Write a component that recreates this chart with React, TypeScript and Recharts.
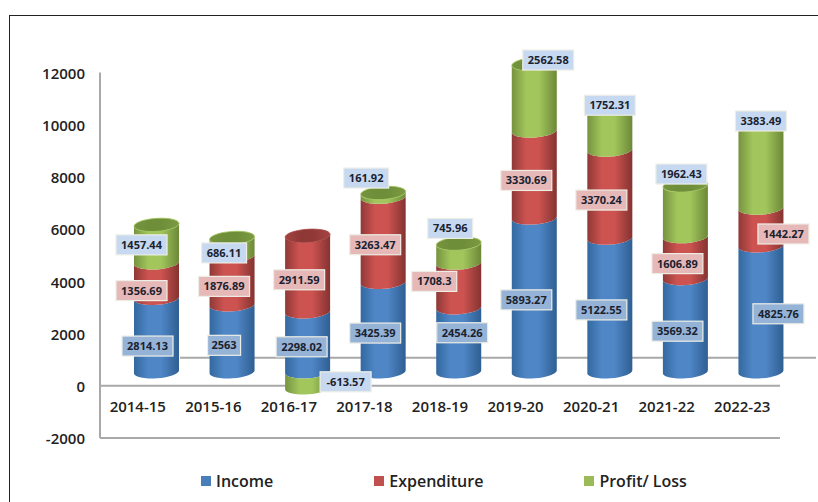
import { BarChart, Bar, XAxis, YAxis, Legend, LabelList, ReferenceLine } from "recharts";

const years = ["2014-15", "2015-16", "2016-17", "2017-18", "2018-19", "2019-20", "2020-21", "2021-22", "2022-23"];
const income = [2814.13, 2563, 2298.02, 3425.39, 2454.26, 5893.27, 5122.55, 3569.32, 4825.76];
const expenditure = [1356.69, 1876.89, 2911.59, 3263.47, 1708.3, 3330.69, 3370.24, 1606.89, 1442.27];
const profit = [1457.44, 686.11, -613.57, 161.92, 745.96, 2562.58, 1752.31, 1962.43, 3383.49];
const yTicks = [-2000, 0, 2000, 4000, 6000, 8000, 10000, 12000];

const data = years.map((year, i) => ({
  year,
  income: income[i],
  expenditure: expenditure[i],
  profit: profit[i],
}));

// hand-placed labels in the original, offset from the middle of each segment
const incomeNudge = [[-9, 13], [-8, 9], [-6, 7], [-8, 8], [3.5, -5], [-8, 7], [-8.5, 7], [-8, 8], [17.5, 7]];
const expenditureNudge = [[-15, 12], [-8, 8], [-8.5, 8], [-8, 7], [-24.5, -2], [-8, 8], [-8.5, 8], [-8, 8], [22.5, 9]];
const profitNudge = [[-15, 3], [-8, 8], [38, 4], [-17, -15], [-8.5, -23], [14, -35.5], [0, -20], [-4, -35], [0, -41]];

const FONT = "'Open Sans', sans-serif";
const DEPTH_X = 19;
const DEPTH_Y = 14;
const LABEL_Y = 16;
const RY = 6.5;
const TILT_DEG = -4;
const TILT = 1.6;

function Cylinder(props: any) {
  const { x, y, width, height, gradient, cap, capEdge, index, showCap } = props;
  const x0 = x + DEPTH_X;
  const x1 = x0 + width;
  const rx = width / 2;
  const top = Math.min(y, y + height) - DEPTH_Y;
  const bottom = Math.max(y, y + height) - DEPTH_Y;
  const d = [
    `M${x0},${top + TILT}`,
    `A${rx},${RY} ${TILT_DEG} 0 0 ${x1},${top - TILT}`,
    `L${x1},${bottom - TILT}`,
    `A${rx},${RY} ${TILT_DEG} 0 1 ${x0},${bottom + TILT}`,
    "Z",
  ].join(" ");
  return (
    <g>
      <path d={d} fill={`url(#${gradient})`} />
      {showCap && showCap(index) && (
        <ellipse
          cx={x0 + rx}
          cy={top}
          rx={rx}
          ry={RY}
          fill={`url(#${cap})`}
          stroke={capEdge}
          strokeWidth={0.8}
          transform={`rotate(${TILT_DEG} ${x0 + rx} ${top})`}
        />
      )}
    </g>
  );
}

function ValueLabel(props: any) {
  const { x, y, width, height, value, index, boxFill, nudge } = props;
  const text = String(value);
  const boxW = text.length * 6 + 9;
  const boxH = 20;
  const cx = x + width / 2 + DEPTH_X + nudge[index][0];
  const cy = Math.min(y, y + height) + Math.abs(height) / 2 - LABEL_Y + nudge[index][1];
  return (
    <g>
      <rect x={cx - boxW / 2} y={cy - boxH / 2} width={boxW} height={boxH} fill={boxFill} stroke="#eeeee6" strokeWidth={1.2} />
      <text x={cx} y={cy + 4} textAnchor="middle" fontFamily={FONT} fontSize={11} fontWeight={700} fill="#1a2230">
        {text}
      </text>
    </g>
  );
}

function YearTick(props: any) {
  const { x, y, payload } = props;
  return (
    <text x={x} y={y - 34} textAnchor="middle" fontFamily={FONT} fontSize={15} fontWeight={600} fill="#222">
      {payload.value}
    </text>
  );
}

function BackWall(props: any) {
  const { x1, x2, y1 } = props;
  return <line x1={x1 + 80} x2={x2 + 36} y1={y1} y2={y1} stroke="#a9a9a9" strokeWidth={2} />;
}

function LegendRow(props: any) {
  return (
    <div style={{ display: "flex", gap: 101, fontFamily: FONT, fontSize: 16, fontWeight: 600, color: "#222", whiteSpace: "nowrap" }}>
      {props.payload.map((item: any) => (
        <div key={item.value} style={{ display: "flex", alignItems: "center", gap: 5 }}>
          <span style={{ width: 10, height: 10, background: item.color, display: "inline-block" }} />
          {item.value}
        </div>
      ))}
    </div>
  );
}

function Gradient({ id, edge, mid, far }: { id: string; edge: string; mid: string; far: string }) {
  return (
    <linearGradient id={id} x1="0" y1="0" x2="1" y2="0">
      <stop offset="0%" stopColor={edge} />
      <stop offset="32%" stopColor={mid} />
      <stop offset="60%" stopColor={mid} />
      <stop offset="100%" stopColor={far} />
    </linearGradient>
  );
}

export default function App() {
  return (
    <div style={{ position: "absolute", left: 0, top: 0, width: 818, height: 502, overflow: "hidden", background: "#fff" }}>
      <div style={{ position: "absolute", left: 9, top: 15, width: 900, height: 600, border: "1.5px solid #222" }} />
      <div style={{ position: "absolute", left: 0, top: 0 }}>
        <BarChart
          width={818}
          height={502}
          data={data}
          stackOffset="sign"
          barSize={45}
          margin={{ top: 72.5, right: 38, bottom: 34, left: 0 }}
        >
          <defs>
            <Gradient id="blueBody" edge="#33699f" mid="#4f86c6" far="#2f5f92" />
            <Gradient id="redBody" edge="#8f3937" mid="#cd5350" far="#843331" />
            <Gradient id="greenBody" edge="#76933f" mid="#a2c65c" far="#6c8838" />
            <Gradient id="greenCap" edge="#76943f" mid="#6f8e3a" far="#7c9a42" />
            <Gradient id="redCap" edge="#a54442" mid="#8f3836" far="#a54442" />
          </defs>
          <XAxis
            dataKey="year"
            interval={0}
            height={30}
            axisLine={{ stroke: "#a9a9a9", strokeWidth: 2 }}
            tickLine={false}
            tick={<YearTick />}
          />
          <YAxis
            width={100}
            domain={[-2000, 12000]}
            ticks={yTicks}
            interval={0}
            axisLine={{ stroke: "#a9a9a9", strokeWidth: 2 }}
            tickLine={false}
            tickSize={0}
            tickMargin={15}
            tick={{ fontFamily: FONT, fontSize: 15, fontWeight: 600, fill: "#222", dy: 1 }}
          />
          <ReferenceLine y={1073} ifOverflow="visible" shape={<BackWall />} zIndex={50} />
          <ReferenceLine y={0} stroke="#a9a9a9" strokeWidth={2} zIndex={50} />
          <Legend
            layout="horizontal"
            verticalAlign="middle"
            align="center"
            itemSorter={null}
            wrapperStyle={{ left: 201, top: 470, width: 540, height: 24, bottom: "auto", right: "auto" }}
            content={<LegendRow />}
          />
          <Bar
            dataKey="income"
            name="Income"
            stackId="a"
            fill="#4a7ebb"
            isAnimationActive={false}
            shape={<Cylinder gradient="blueBody" />}
          >
            <LabelList dataKey="income" content={<ValueLabel boxFill="#95b3d7" nudge={incomeNudge} />} />
          </Bar>
          <Bar
            dataKey="expenditure"
            name="Expenditure"
            stackId="a"
            fill="#c0504d"
            isAnimationActive={false}
            shape={
              <Cylinder
                gradient="redBody"
                cap="redCap"
                capEdge="#a54442"
                showCap={(i: number) => profit[i] < 0}
              />
            }
          >
            <LabelList dataKey="expenditure" content={<ValueLabel boxFill="#e6b8b7" nudge={expenditureNudge} />} />
          </Bar>
          <Bar
            dataKey="profit"
            name="Profit/ Loss"
            stackId="a"
            fill="#9bbb59"
            isAnimationActive={false}
            shape={
              <Cylinder
                gradient="greenBody"
                cap="greenCap"
                capEdge="#a2c65c"
                showCap={(i: number) => profit[i] > 0}
              />
            }
          >
            <LabelList dataKey="profit" content={<ValueLabel boxFill="#c6d9f0" nudge={profitNudge} />} />
          </Bar>
        </BarChart>
      </div>
    </div>
  );
}
